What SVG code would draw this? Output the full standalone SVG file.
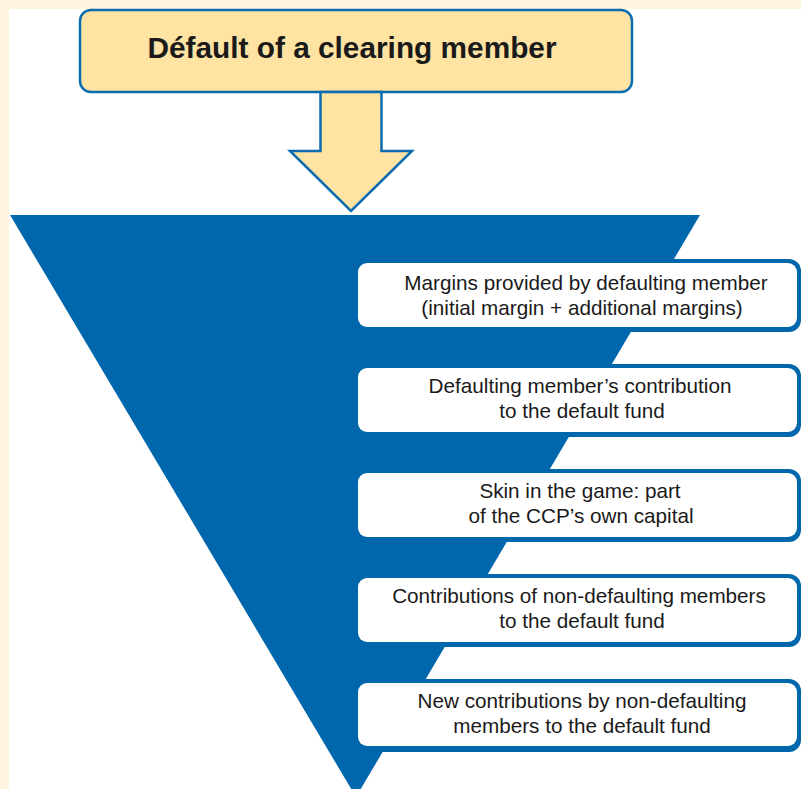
<svg xmlns="http://www.w3.org/2000/svg" width="801" height="789" viewBox="0 0 801 789">
  <style>
    .bg-cream { fill: #FFF5DE; }
    .title-box { fill: #FEE3A3; stroke: #0C6CB0; stroke-width: 2.5; }
    .title-text { font-family: "Liberation Sans", Arial, sans-serif; font-weight: bold; font-size: 29.8px; fill: #1A1A1A; text-anchor: middle; }
    .arrow { fill: #FEE3A3; stroke: #0C6CB0; stroke-width: 2.5; stroke-linejoin: miter; }
    .funnel { fill: #0067AC; }
    .box-outer { fill: #0067AC; }
    .box-inner { fill: #FFFFFF; }
    .box-text { font-family: "Liberation Sans", Arial, sans-serif; font-size: 20.7px; fill: #1A1A1A; text-anchor: middle; }
  </style>
  <rect x="0" y="0" width="801" height="789" class="bg-cream"/>
  <rect x="9" y="9" width="792" height="780" fill="#FFFFFF"/>

  <g id="funnel">
    <polygon class="funnel" points="10,215 700,215 356,797"/>
  </g>

  <g id="title">
    <rect class="title-box" x="80" y="10" width="552" height="82" rx="11" ry="11"/>
    <text class="title-text" x="352" y="58">Défault of a clearing member</text>
  </g>

  <g id="connectors">
    <polygon class="arrow" points="320.5,92 381.5,92 381.5,151 412,151 351,211 290,151 320.5,151"/>
  </g>

  <g id="layer1">
    <rect class="box-outer" x="355" y="259" width="446" height="73" rx="12"/>
    <rect class="box-inner" x="358" y="263" width="439" height="64" rx="9"/>
    <text class="box-text" x="586" y="290">Margins provided by defaulting member</text>
    <text class="box-text" x="582" y="315">(initial margin + additional margins)</text>
  </g>

  <g id="layer2">
    <rect class="box-outer" x="355" y="364" width="446" height="73" rx="12"/>
    <rect class="box-inner" x="358" y="368" width="439" height="64" rx="9"/>
    <text class="box-text" x="580" y="393">Defaulting member’s contribution</text>
    <text class="box-text" x="582" y="418">to the default fund</text>
  </g>

  <g id="layer3">
    <rect class="box-outer" x="355" y="469" width="446" height="73" rx="12"/>
    <rect class="box-inner" x="358" y="473" width="439" height="64" rx="9"/>
    <text class="box-text" x="580" y="498">Skin in the game: part</text>
    <text class="box-text" x="581" y="523">of the CCP’s own capital</text>
  </g>

  <g id="layer4">
    <rect class="box-outer" x="355" y="574" width="446" height="73" rx="12"/>
    <rect class="box-inner" x="358" y="578" width="439" height="64" rx="9"/>
    <text class="box-text" x="579" y="603">Contributions of non-defaulting members</text>
    <text class="box-text" x="582" y="628">to the default fund</text>
  </g>

  <g id="layer5">
    <rect class="box-outer" x="355" y="679" width="446" height="73" rx="12"/>
    <rect class="box-inner" x="358" y="683" width="439" height="63" rx="9"/>
    <text class="box-text" x="582" y="708">New contributions by non-defaulting</text>
    <text class="box-text" x="582" y="733">members to the default fund</text>
  </g>
</svg>
